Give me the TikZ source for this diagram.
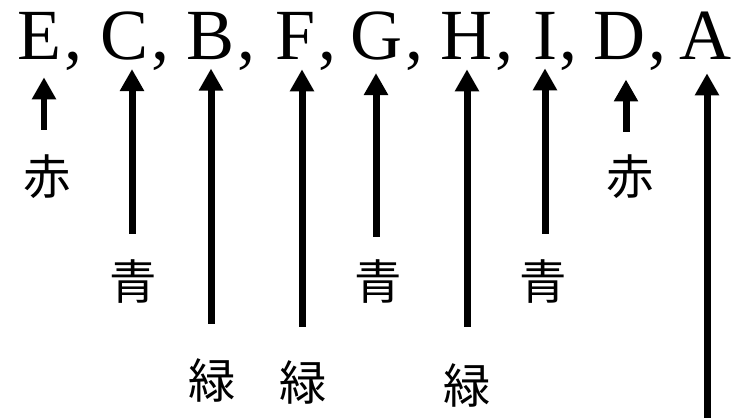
\documentclass[tikz,border=0pt]{standalone}
\usepackage{fontspec}
\setmainfont{Liberation Serif}
\newfontfamily\jpfont{Noto Sans CJK JP}
\usetikzlibrary{arrows.meta, calc}

\tikzset{
  letter/.style={inner sep=0pt, anchor=base, font=\fontsize{41}{41}\selectfont},
  colourlabel/.style={inner sep=0pt, font=\jpfont\fontsize{27}{27}\selectfont},
  uparrow/.style={line width=0.14cm,
    -{Triangle[width=0.46cm, length=0.44cm]}}
}

\begin{document}
\begin{tikzpicture}[x=0.02cm, y=-0.02cm]
  \useasboundingbox (0,0) rectangle (748,418);

  % Sequence
  \foreach \n/\x in {E/40, C/125, B/211, F/296, G/377, H/467, I/545, D/620, A/706} {
    \node[letter] (\n) at (\x, 60) {\n};
  }
  \foreach \n in {E, C, B, F, G, H, I, D} {
    \node[letter, anchor=base west, xshift=1pt] (k\n) at (\n.base east) {,};
  }

  % Colour labels
  \foreach \n/\x/\y/\t in {E/47/177/赤, C/133/282/青, B/212/380/緑, F/303/382/緑,
    G/378/282/青, H/467/385/緑, I/543/282/青, D/630/177/赤} {
    \node[colourlabel] (l\n) at (\x, \y) {\t};
  }

  % Arrows
  \foreach \n/\x/\yb/\s in {E/44/130/17, C/132/234/8, B/211/324/8, F/302/327/9,
    G/376/237/12, H/467/327/9, I/545/234/8, D/626/132/19, A/707/418/13} {
    \coordinate (b\n) at (\x, \yb);
    \draw[uparrow] (b\n) -- ($(b\n |- \n.south)+(0,\s)$);
  }
\end{tikzpicture}
\end{document}
